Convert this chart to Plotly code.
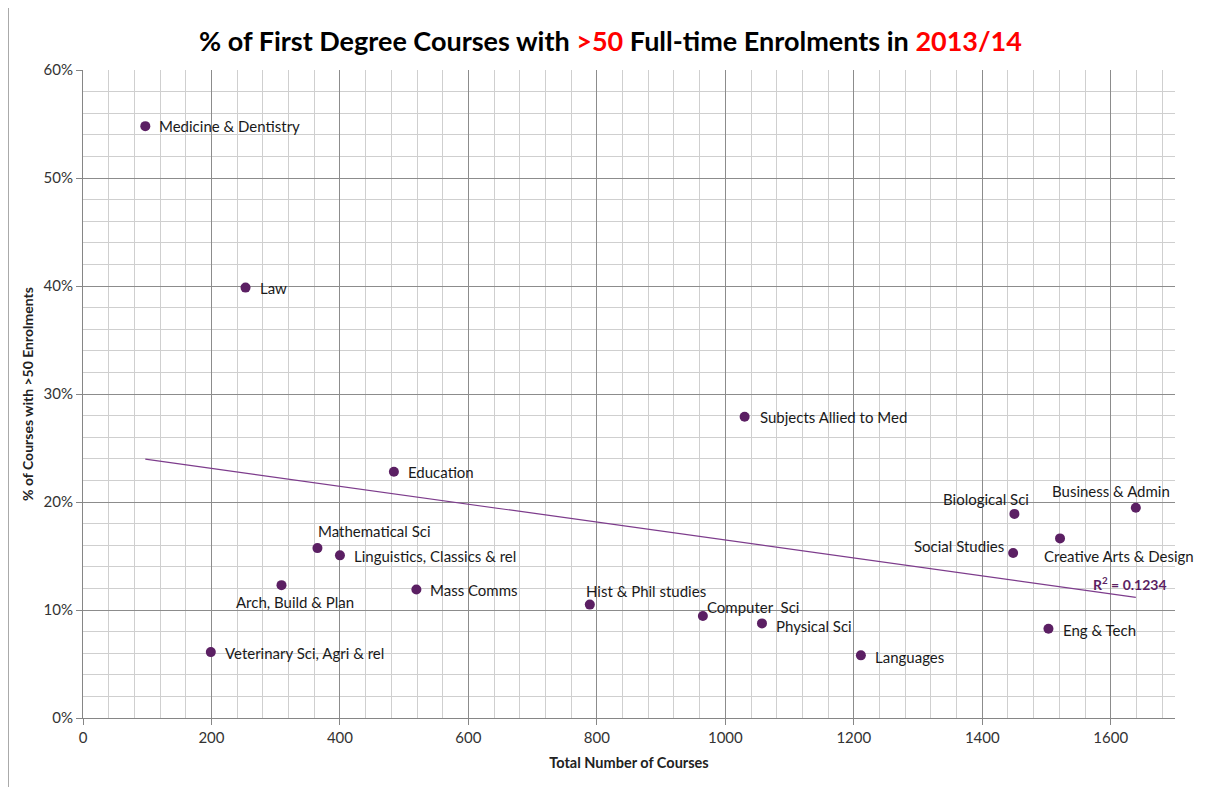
import numpy as np
import plotly.graph_objects as go

# subject areas
subjects = [
    "Medicine & Dentistry", "Law", "Subjects Allied to Med", "Education",
    "Mathematical Sci", "Linguistics, Classics & rel", "Arch, Build & Plan",
    "Mass Comms", "Veterinary Sci, Agri & rel", "Hist & Phil studies",
    "Computer  Sci", "Physical Sci", "Languages", "Eng & Tech",
    "Biological Sci", "Social Studies", "Creative Arts & Design",
    "Business & Admin",
]
total_courses = [
    97, 253, 1030, 484, 365, 400, 309, 519, 199, 789,
    965, 1057, 1211, 1503, 1450, 1448, 1521, 1639,
]
pct_over_50 = [
    54.8, 39.85, 27.9, 22.8, 15.73, 15.06, 12.3, 11.9, 6.1, 10.5,
    9.44, 8.76, 5.8, 8.27, 18.9, 15.27, 16.63, 19.47,
]

# label offsets in px (xanchor, xshift, yshift), Excel-style manual placement
label_pos = {
    "Medicine & Dentistry": ("left", 12, 0),
    "Law": ("left", 12, 0),
    "Subjects Allied to Med": ("left", 13, 0),
    "Education": ("left", 12, 0),
    "Mathematical Sci": ("left", -1, 17),
    "Linguistics, Classics & rel": ("left", 12, -1),
    "Arch, Build & Plan": ("center", 14, -17),
    "Mass Comms": ("left", 12, -1),
    "Veterinary Sci, Agri & rel": ("left", 12, -1),
    "Hist & Phil studies": ("left", -6, 14),
    "Computer  Sci": ("left", 2, 9),
    "Physical Sci": ("left", 12, -3),
    "Languages": ("left", 12, -2),
    "Eng & Tech": ("left", 13, -1),
    "Biological Sci": ("right", 17, 15),
    "Social Studies": ("right", -7, 7),
    "Creative Arts & Design": ("left", -18, -18),
    "Business & Admin": ("center", -25, 17),
}

FONT = "Lato, 'Liberation Sans', sans-serif"
DOT = "#5b1f63"
TREND = "#7d3c8c"

x = np.array(total_courses, dtype=float)
y = np.array(pct_over_50) / 100
slope, intercept = np.polyfit(x, y, 1)
trend_x = np.array([x.min(), x.max()])
trend_y = slope * trend_x + intercept

fig = go.Figure()
fig.add_trace(go.Scatter(
    x=trend_x, y=trend_y, mode="lines",
    line=dict(color=TREND, width=1.2), hoverinfo="skip",
))
fig.add_trace(go.Scatter(
    x=x, y=y, mode="markers", text=subjects,
    marker=dict(color=DOT, size=10),
))

for name, cx, cy in zip(subjects, x, y):
    anchor, dx, dy = label_pos[name]
    fig.add_annotation(
        x=cx, y=cy, text=name, showarrow=False,
        xanchor=anchor, yanchor="middle", xshift=dx, yshift=dy,
        font=dict(family=FONT, size=15, color="#1a1a1a"),
    )

fig.add_annotation(
    x=trend_x[-1], y=trend_y[-1], text="R<sup>2</sup> = 0.1234", showarrow=False,
    xanchor="right", yanchor="middle", xshift=33, yshift=14,
    font=dict(family=FONT, size=14, color=DOT, weight="bold"),
)

# outer chart border (top and left only are visible in the source)
for x0, y0, x1, y1 in [(-0.0687, 1.097, 1.05, 1.097), (-0.0687, 1.097, -0.0687, -0.15)]:
    fig.add_shape(type="line", xref="paper", yref="paper",
                  x0=x0, y0=y0, x1=x1, y1=y1, line=dict(color="#8a8a8a", width=1.5))

# page body has an 8px margin, so margins are offset to land the plot area
fig.update_layout(
    width=1205, height=787,
    margin=dict(l=75, r=38, t=62, b=77),
    paper_bgcolor="white", plot_bgcolor="white",
    showlegend=False,
    font=dict(family=FONT, size=14, color="#222"),
    title=dict(
        text="% of First Degree Courses with <span style='color:#ff0000'>&gt;50</span> "
             "Full-time Enrolments in <span style='color:#ff0000'>2013/14</span>",
        x=0.5, xanchor="center", y=0.958, yanchor="middle",
        font=dict(family=FONT, size=27, color="black", weight="bold"),
    ),
    xaxis=dict(
        range=[0, 1700], dtick=200, tick0=0,
        showgrid=True, gridcolor="#8c8c8c", gridwidth=1,
        minor=dict(dtick=40, showgrid=True, gridcolor="#cfcfcf", gridwidth=1),
        showline=True, linecolor="#868686", linewidth=1,
        ticks="outside", ticklen=6, tickcolor="#868686",
        zeroline=False, tickfont=dict(size=15, color="#333"),
        title=dict(text="<b>Total Number of Courses</b>", font=dict(size=14.5, color="#222"), standoff=12),
    ),
    yaxis=dict(
        range=[0, 0.6], dtick=0.1, tick0=0, tickformat=".0%",
        showgrid=True, gridcolor="#8c8c8c", gridwidth=1,
        minor=dict(dtick=0.02, showgrid=True, gridcolor="#cfcfcf", gridwidth=1),
        showline=True, linecolor="#868686", linewidth=1,
        ticks="outside", ticklen=6, tickcolor="#868686",
        zeroline=False, tickfont=dict(size=15, color="#333"),
        title=dict(text="<b>% of Courses with >50 Enrolments</b>", font=dict(size=14, color="#222"), standoff=6),
    ),
)

fig.write_html("out.html")
